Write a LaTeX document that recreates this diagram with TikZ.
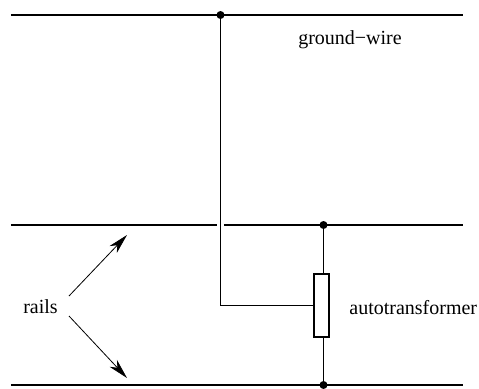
\documentclass[tikz,border=0pt]{standalone}
\usepackage{fontspec}
\setmainfont{Liberation Serif}
\usetikzlibrary{arrows.meta}
\tikzset{
	wire/.style = {line width = 0.5pt},
	railline/.style = {line width = 1pt},
	joint/.style = {circle, fill = black, inner sep = 0pt, minimum size = 4pt},
	pointer/.style = {line width = 0.4pt, -{Stealth[length = 10pt, width = 5pt, inset = 3pt]}},
	label/.style = {inner sep = 0pt, font = \fontsize{10}{12}\selectfont}
}

\begin{document}
\begin{tikzpicture}[x = 0.5pt, y = 0.5pt]
			\def\xLEFT{11};
			\def\xRIGHT{463};
			\def\yGROUND{373};
			\def\yRAILA{163};
			\def\yRAILB{3};

			\useasboundingbox (0,0) rectangle (479,388);

			\begin{scope}
				\coordinate (groundL) at (\xLEFT,\yGROUND);
				\coordinate (groundR) at (\xRIGHT,\yGROUND);
				\coordinate (railAL) at (\xLEFT,\yRAILA);
				\coordinate (gapL) at (217,\yRAILA);
				\coordinate (gapR) at (224,\yRAILA);
				\coordinate (railAR) at (\xRIGHT,\yRAILA);
				\coordinate (railBL) at (\xLEFT,\yRAILB);
				\coordinate (railBR) at (\xRIGHT,\yRAILB);
				\coordinate (armAend) at (127,153);
				\coordinate (armBend) at (127,10);
				\coordinate (armAstart) at (69,92);
				\coordinate (armBstart) at (69,72);
			\end{scope}

			\node [joint] (groundjoint) at (220.5,\yGROUND) {};
			\node [joint] (railAjoint) at (323.5,\yRAILA) {};
			\node [joint] (railBjoint) at (323.5,\yRAILB) {};
			\node [draw, line width = 1pt, fill = white, inner sep = 0pt, minimum width = 7.8pt, minimum height = 31.5pt] (autotrafo) at (321.5,83) {};

			\node [label] (groundtext) at (350,348) {ground−wire};
			\node [label] (railstext) at (40.5,81) {rails};
			\node [label, anchor = west] (autotext) at (349,80) {autotransformer};

			\begin{scope}[railline]
				\draw (groundL) -- (groundR);
				\draw (railAL) -- (gapL);
				\draw (gapR) -- (railAR);
				\draw (railBL) -- (railBR);
			\end{scope}

			\begin{scope}[wire]
				\draw (groundjoint) |- (autotrafo.west);
				\draw (railAjoint) -- (railAjoint |- autotrafo.north);
				\draw (railBjoint) -- (railBjoint |- autotrafo.south);
			\end{scope}

			\begin{scope}[pointer]
				\draw (armAstart) -- (armAend);
				\draw (armBstart) -- (armBend);
			\end{scope}
		\end{tikzpicture}
\end{document}
